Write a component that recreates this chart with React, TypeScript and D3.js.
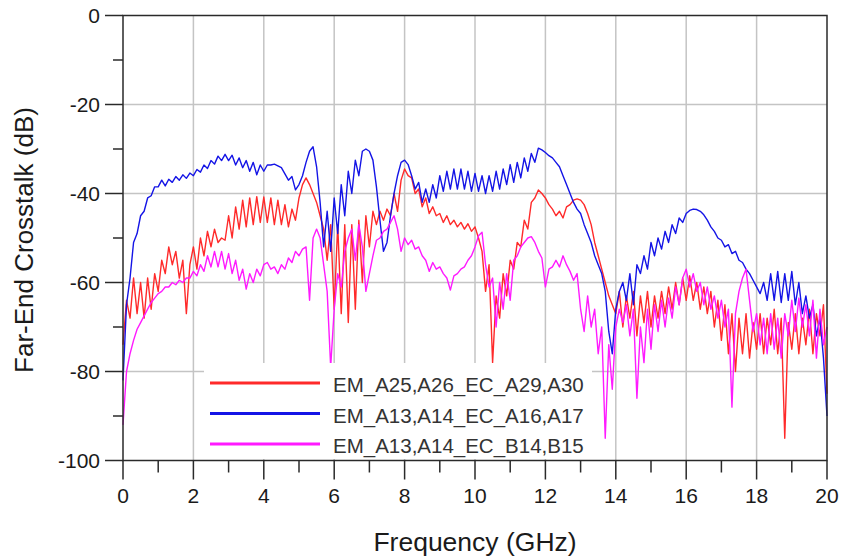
import React, {useEffect, useRef} from 'react';
import * as d3 from 'd3';

// far-end crosstalk, 0..20 GHz sampled every 0.1 GHz (one row = 1 GHz)
const redLabel = 'EM_A25,A26_EC_A29,A30';
const blueLabel = 'EM_A13,A14_EC_A16,A17';
const magentaLabel = 'EM_A13,A14_EC_B14,B15';

const redValues = [
    -74, -64, -68, -59, -67, -60, -68, -59, -66, -58,
    -62, -55, -58, -52, -56, -53, -59, -55, -67, -56,
    -52, -57, -50, -54, -48.5, -52, -48, -51, -50, -50.5,
    -45, -50, -43, -48, -41.5, -47.5, -41, -47, -40.7, -46.5,
    -40.8, -46.5, -41, -47, -41.5, -47, -42.5, -47.5, -43.5, -46,
    -41, -38, -36.5, -38, -40, -42, -45, -48, -55, -47,
    -66, -47, -67, -47, -69, -47, -66, -46, -60, -45,
    -52, -44, -47, -44, -46, -43.5, -45, -40, -44, -37,
    -34.5, -36, -36.5, -40, -39, -43, -41, -44.5, -43, -45,
    -44.5, -46.5, -45, -47, -46, -47.5, -46.5, -48, -46.8, -48.5,
    -47.5, -50, -53, -62, -56, -78, -63, -68, -58, -63,
    -55, -57, -51, -52, -46, -48, -42, -41, -39.2, -40,
    -41, -42.5, -43.5, -45, -44, -45.5, -43, -42.5, -41.5, -41.2,
    -41.5, -42.5, -44.5, -47, -51, -54, -57, -60, -63, -65,
    -67, -62, -70, -63, -68, -62, -72, -63, -69, -62,
    -70, -63, -68, -62, -67, -61, -66, -60, -65, -59,
    -64, -58.5, -64, -60, -66, -61, -67, -62, -70, -64,
    -73, -65, -76, -67, -80, -68, -76, -67, -77, -69,
    -75, -67, -76, -68, -74, -66, -76, -68, -95, -69,
    -75, -67, -76, -68, -74, -66, -76, -67, -72, -65,
    -85
];

const blueValues = [
    -82, -65, -59, -51, -49, -45, -44, -41, -40.5, -38.5,
    -38.5, -37, -38.3, -36.8, -37.5, -36.2, -37, -35.8, -36.6, -35.4,
    -36, -34.6, -35.2, -33.6, -34.4, -32.6, -33.4, -31.6, -32.6, -31.2,
    -32.6, -31.4, -33.6, -32, -34.2, -32.6, -35, -33, -35.8, -33.6,
    -35, -33.6, -33.6, -33.4, -33.8, -34.2, -35.6, -37, -36.2, -39.2,
    -38, -36, -33, -30.5, -29.5, -34, -42, -52, -44, -53,
    -41, -49, -38, -45, -35, -40, -32.5, -36, -30.5, -30,
    -30.5, -32.5, -38.5, -46, -53, -51, -45, -40, -36, -33,
    -32.5, -33.5, -36, -39, -37.5, -42, -39, -42, -38, -41,
    -36, -39.5, -35, -39, -34.5, -39, -34.5, -39, -35, -39.5,
    -35.5, -39.5, -36, -40, -36, -39.5, -35, -39, -34.5, -38,
    -33.5, -37.5, -33, -36.5, -32, -35, -31, -33, -29.8, -30.2,
    -30.8, -31.5, -32, -33, -34, -36, -38, -40, -42, -43.5,
    -44.5, -47, -49, -51, -54, -56, -58, -62, -71, -76,
    -66, -62, -60, -64, -58, -65, -56, -58, -54, -57,
    -51, -54, -50, -52.5, -48.5, -51, -47, -49, -45.5, -46.5,
    -44.5, -43.8, -43.5, -43.6, -44, -44.8, -46, -47.5, -48.5, -50,
    -50.5, -52, -51.5, -53.5, -53, -55, -55.5, -57, -58, -59.5,
    -61, -62.5, -60, -64, -58, -64, -57.5, -64.5, -58, -64,
    -57.5, -65, -60, -67, -63, -68, -65, -72, -68, -77,
    -90
];

const magentaValues = [
    -92, -80, -76, -73, -70.5, -69, -67.5, -66, -64.5, -63.5,
    -62.5, -62, -61, -61, -60, -60.5, -59.5, -60, -59, -59,
    -57.5, -58.5, -56, -57.5, -54, -56.5, -53, -56.5, -53, -57,
    -53.5, -58, -55, -59.5, -57, -61.5, -58, -60, -57, -58.5,
    -56, -55.5, -57, -56.5, -58, -56, -57, -54.5, -55.5, -53,
    -54, -52.5, -52, -64, -50, -48, -50, -56, -62, -79,
    -66, -58, -61, -53, -50, -48, -55, -47, -52, -62,
    -58, -54, -50.5, -50, -48.5, -48, -46.5, -45, -48, -53,
    -50, -51.5, -50.5, -52.5, -52, -54, -55, -57.5, -55.5, -57,
    -56.5, -58, -59, -61.7, -58.5, -58, -57, -56.5, -55, -54,
    -52, -49.5, -48.7, -56, -61, -59, -70, -60, -66, -58,
    -64, -55, -54, -52, -51, -50, -49.7, -51, -53, -54.5,
    -61, -57, -56.5, -55, -56.5, -54, -56, -57.5, -59.5, -58,
    -66, -71, -63, -70, -66, -76, -70, -95, -74, -84,
    -70, -66, -69, -65, -72, -66, -86, -70, -78, -66,
    -75, -65, -71, -64, -70, -63.5, -68, -61, -65, -59,
    -57, -61, -58, -62, -60, -65, -61, -66, -63, -68,
    -64, -70, -66, -88, -67, -62, -59, -57, -64, -71,
    -67, -74, -68, -76, -67, -75, -68, -77, -67, -72,
    -64, -71, -63.5, -70, -65, -72, -64, -77, -66, -74,
    -70
];

const freqs = redValues.map((_, i) => i / 10);

const xMajorTicks = [0, 2, 4, 6, 8, 10, 12, 14, 16, 18, 20];
const xMinorTicks = [1, 3, 5, 7, 9, 11, 13, 15, 17, 19];
const yMajorTicks = [0, -20, -40, -60, -80, -100];
const yMinorTicks = [-10, -30, -50, -70, -90];

const series = [
    {label: redLabel, values: redValues, color: '#ff2a2a'},
    {label: blueLabel, values: blueValues, color: '#1414e6'},
    {label: magentaLabel, values: magentaValues, color: '#ff1aff'}
];

const width = 842;
const height = 559;
const margin = {top: 15.5, right: 15, bottom: 98.5, left: 123};
const font = '"Liberation Sans", Arial, sans-serif';

function App() {
    const ref = useRef<SVGSVGElement>(null);

    useEffect(() => {
        const svg = d3.select(ref.current);
        svg.selectAll('*').remove();

        const x = d3.scaleLinear().domain([0, 20]).range([margin.left, width - margin.right]);
        const y = d3.scaleLinear().domain([-100, 0]).range([height - margin.bottom, margin.top]);

        const x0 = x(0), x1 = x(20), y0 = y(-100), y1 = y(0);

        // grid
        const grid = svg.append('g').attr('stroke', '#c4c4c4').attr('stroke-width', 1.5);
        grid.selectAll('.gx')
            .data(xMajorTicks.slice(1, -1))
            .enter()
            .append('line')
            .attr('x1', (d) => x(d)).attr('x2', (d) => x(d))
            .attr('y1', y1).attr('y2', y0);
        grid.selectAll('.gy')
            .data(yMajorTicks.slice(1, -1))
            .enter()
            .append('line')
            .attr('x1', x0).attr('x2', x1)
            .attr('y1', (d) => y(d)).attr('y2', (d) => y(d));

        // curves
        const line = d3.line<number>()
            .x((_, i) => x(freqs[i]))
            .y((d) => y(d));

        svg.append('g')
            .selectAll('path')
            .data(series)
            .enter()
            .append('path')
            .attr('d', (d) => line(d.values))
            .attr('fill', 'none')
            .attr('stroke', (d) => d.color)
            .attr('stroke-width', 1.4)
            .attr('stroke-linejoin', 'round');

        // legend
        const legendTop = 363;
        const rowH = 30.5;
        const legend = svg.append('g');
        legend.append('rect')
            .attr('x', 204).attr('y', legendTop)
            .attr('width', 388).attr('height', y0 - legendTop - 1.5)
            .attr('fill', '#fff');
        const rows = legend.selectAll('.row')
            .data(series)
            .enter()
            .append('g')
            .attr('transform', (_, i) => `translate(0, ${legendTop + 20 + i * rowH})`);
        rows.append('line')
            .attr('x1', 210).attr('x2', 320)
            .attr('stroke', (d) => d.color)
            .attr('stroke-width', 3);
        rows.append('text')
            .attr('x', 333).attr('y', 4)
            .attr('dominant-baseline', 'middle')
            .attr('font-family', font)
            .attr('font-size', 20.5)
            .attr('fill', '#333')
            .text((d) => d.label);

        // frame + ticks
        const axis = svg.append('g').attr('stroke', '#2a2a2a').attr('stroke-width', 1.5);
        axis.append('rect')
            .attr('x', x0).attr('y', y1)
            .attr('width', x1 - x0).attr('height', y0 - y1)
            .attr('fill', 'none');
        axis.selectAll('.xt')
            .data(xMajorTicks.map((v) => ({v, len: 19})).concat(xMinorTicks.map((v) => ({v, len: 12}))))
            .enter()
            .append('line')
            .attr('x1', (d) => x(d.v)).attr('x2', (d) => x(d.v))
            .attr('y1', y0).attr('y2', (d) => y0 + d.len);
        axis.selectAll('.yt')
            .data(yMajorTicks.map((v) => ({v, len: 18})).concat(yMinorTicks.map((v) => ({v, len: 10}))))
            .enter()
            .append('line')
            .attr('x1', x0).attr('x2', (d) => x0 - d.len)
            .attr('y1', (d) => y(d.v)).attr('y2', (d) => y(d.v));

        const labels = svg.append('g')
            .attr('font-family', font)
            .attr('fill', '#1a1a1a');
        labels.selectAll('.xl')
            .data(xMajorTicks)
            .enter()
            .append('text')
            .attr('x', (d) => x(d)).attr('y', 503)
            .attr('text-anchor', 'middle')
            .attr('font-size', 21)
            .text((d) => d);
        labels.selectAll('.yl')
            .data(yMajorTicks)
            .enter()
            .append('text')
            .attr('x', 100).attr('y', (d) => y(d) + 7.5)
            .attr('text-anchor', 'end')
            .attr('font-size', 21)
            .text((d) => d);

        labels.append('text')
            .attr('x', (x0 + x1) / 2).attr('y', 551)
            .attr('text-anchor', 'middle')
            .attr('font-size', 26.5)
            .text('Frequency (GHz)');
        labels.append('text')
            .attr('transform', `translate(33, ${(y0 + y1) / 2 + 2}) rotate(-90)`)
            .attr('text-anchor', 'middle')
            .attr('font-size', 26)
            .text('Far-End Crosstalk (dB)');
    }, []);

    return (
        <>
            <style>{'body { margin: 0; }'}</style>
            <svg ref={ref} width={width} height={height} style={{display: 'block', background: '#fff'}}/>
        </>
    );
}

export default App;
